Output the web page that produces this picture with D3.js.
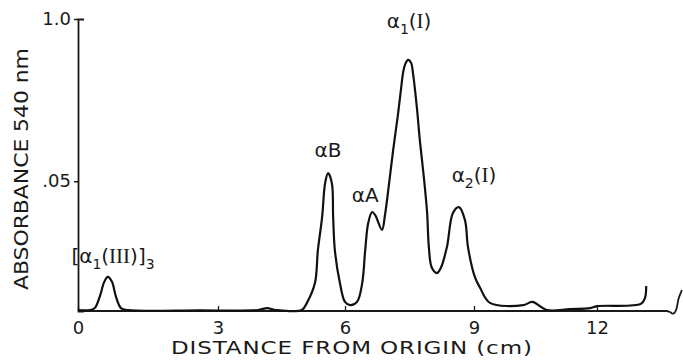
<!DOCTYPE html>
<html>
<head>
<meta charset="utf-8">
<script src="https://cdn.jsdelivr.net/npm/d3@7"></script>
<style>
  body { margin: 0; background: #fff; }
  svg text { font-family: "DejaVu Sans", sans-serif; fill: #1a1a1a; }
  .rom { font-family: "Liberation Serif", serif; }
</style>
</head>
<body>
<svg id="chart" width="683" height="361"></svg>
<script>
// tick values / labels
const xTicks = [0, 3, 6, 9, 12];
const xTickLabels = ["0", "3", "6", "9", "12"];
const yTicks = [0.5, 1.0];
const yTickLabels = [".05", "1.0"];

// densitometer trace, distance (cm) vs absorbance
const distance = [
  0, 0.26, 0.36, 0.47, 0.56, 0.64, 0.73, 0.81, 0.92, 1.07, 2.6,
  3.94, 4.16, 4.37, 4.98, 5.10, 5.29, 5.36, 5.46, 5.53, 5.60, 5.69, 5.72, 5.76, 5.88,
  6.00, 6.12, 6.28, 6.40, 6.47, 6.54, 6.63, 6.70, 6.86, 6.93, 7.02, 7.12, 7.23, 7.30,
  7.35, 7.40, 7.47, 7.54, 7.58, 7.67, 7.74, 7.84, 7.91, 7.95, 8.02, 8.14, 8.23, 8.37,
  8.51, 8.65, 8.79, 8.86, 9.02, 9.15, 9.39, 10.20, 10.42, 10.78, 11.34, 11.83, 12.0,
  13.07, 13.17, 13.20
];
const absorbance = [
  0.103, 0.103, 0.109, 0.146, 0.189, 0.205, 0.189, 0.146, 0.109, 0.103, 0.102,
  0.103, 0.109, 0.103, 0.103, 0.125, 0.186, 0.288, 0.390, 0.494, 0.525, 0.494, 0.390, 0.288, 0.186,
  0.128, 0.118, 0.128, 0.186, 0.288, 0.371, 0.405, 0.396, 0.350, 0.396, 0.488, 0.596, 0.704, 0.781,
  0.834, 0.861, 0.874, 0.864, 0.834, 0.729, 0.627, 0.504, 0.402, 0.297, 0.233, 0.217, 0.233, 0.297,
  0.402, 0.420, 0.380, 0.297, 0.205, 0.171, 0.125, 0.118, 0.128, 0.103, 0.106, 0.109, 0.115,
  0.122, 0.140, 0.177
];

// peak labels: parts are [text, kind]
const peakLabels = [
  [["[α", "n"], ["1", "sub"], ["(", "n"], ["III", "rom"], [")]", "n"], ["3", "sub"]],
  [["αB", "n"]],
  [["αA", "n"]],
  [["α", "n"], ["1", "sub"], ["(", "n"], ["I", "rom"], [")", "n"]],
  [["α", "n"], ["2", "sub"], ["(", "n"], ["I", "rom"], [")", "n"]]
];
const peakLabelX = [0.75, 5.6, 6.47, 7.49, 9.0];
const peakLabelY = [0.248, 0.575, 0.436, 0.972, 0.498];

const data = distance.map((d, i) => ({ x: d, y: absorbance[i] }));

const margin = { top: 19, left: 78 };
const height = 292;
// the scanned axis is slightly uneven, so the scale is piecewise
const tickOffsets = [0, 140, 267, 396, 519];

const svg = d3.select("#chart");
const ctx = svg.append("g").attr("transform", `translate(${margin.left},${margin.top})`);

const xScale = d3.scaleLinear().domain(xTicks).range(tickOffsets);
const yScale = d3.scaleLinear().domain([0.1, 1.0]).range([height, 0]);

// x axis: ticks pointing up, baseline drawn separately so it can run past 12
const xAxis = d3.axisBottom(xScale)
  .tickValues(xTicks)
  .tickFormat((d, i) => xTickLabels[i])
  .tickSizeInner(-5)
  .tickSizeOuter(0)
  .tickPadding(10);
const xAxisG = ctx.append("g")
  .attr("class", "axis x-axis")
  .attr("transform", `translate(0,${height})`)
  .call(xAxis);
xAxisG.select(".domain").remove();
xAxisG.selectAll("line").attr("stroke", "#1a1a1a").attr("stroke-width", 1.3);
xAxisG.selectAll("text").attr("font-size", 18).attr("fill", "#1a1a1a").attr("font-family", "DejaVu Sans");

const axisEnd = xScale(13.73);
ctx.append("line")
  .attr("x1", 0).attr("x2", axisEnd)
  .attr("y1", height).attr("y2", height)
  .attr("stroke", "#1a1a1a").attr("stroke-width", 1.8);

// break mark at the right end of the x axis
const brk = d3.line().curve(d3.curveBasis);
ctx.append("path")
  .attr("d", brk([[axisEnd - 2, height], [axisEnd + 3, height + 1], [axisEnd + 5, height + 4],
                  [axisEnd + 9, height - 1], [axisEnd + 10, height - 12], [axisEnd + 14, height - 21]]))
  .attr("fill", "none").attr("stroke", "#1a1a1a").attr("stroke-width", 1.8);

// y axis
const yAxis = d3.axisLeft(yScale)
  .tickValues(yTicks)
  .tickFormat((d, i) => yTickLabels[i])
  .tickSizeInner(4)
  .tickSizeOuter(-6)
  .tickPadding(3);
const yAxisG = ctx.append("g").attr("class", "axis y-axis").call(yAxis);
yAxisG.select(".domain").attr("stroke", "#1a1a1a").attr("stroke-width", 1.8);
yAxisG.selectAll("line").attr("stroke", "#1a1a1a").attr("stroke-width", 1.5);
yAxisG.selectAll("text").attr("font-size", 18).attr("fill", "#1a1a1a").attr("font-family", "DejaVu Sans");

// trace
const line = d3.line()
  .x(d => xScale(d.x))
  .y(d => yScale(d.y))
  .curve(d3.curveCatmullRom.alpha(0.5));
ctx.append("path")
  .datum(data)
  .attr("d", line)
  .attr("fill", "none")
  .attr("stroke", "#111")
  .attr("stroke-width", 2.2)
  .attr("stroke-linejoin", "round");

// peak labels
peakLabels.forEach((parts, i) => {
  const t = ctx.append("text")
    .attr("x", xScale(peakLabelX[i]))
    .attr("y", yScale(peakLabelY[i]))
    .attr("text-anchor", "middle")
    .attr("font-size", 20);
  let shifted = 0;
  parts.forEach(([s, kind]) => {
    const ts = t.append("tspan").text(s);
    if (kind === "sub") {
      ts.attr("font-size", 14).attr("dy", 6 - shifted);
      shifted = 6;
    } else {
      if (shifted) ts.attr("dy", -shifted);
      shifted = 0;
      if (kind === "rom") ts.attr("class", "rom").attr("font-size", 21);
    }
  });
});

// axis titles (the original lettering is a wide face, so stretch it a bit)
const titleCx = margin.left + xScale(6.15);
svg.append("g")
  .attr("transform", `translate(${titleCx},${margin.top + height + 43}) scale(1.28,1)`)
  .append("text")
  .attr("text-anchor", "middle")
  .attr("font-size", 18)
  .attr("textLength", 282)
  .attr("lengthAdjust", "spacing")
  .text("DISTANCE FROM ORIGIN (cm)");

svg.append("g")
  .attr("transform", "translate(28,169) rotate(-90) scale(1.1,1)")
  .append("text")
  .attr("text-anchor", "middle")
  .attr("font-size", 20)
  .attr("textLength", 220)
  .attr("lengthAdjust", "spacing")
  .text("ABSORBANCE  540  nm");
</script>
</body>
</html>
